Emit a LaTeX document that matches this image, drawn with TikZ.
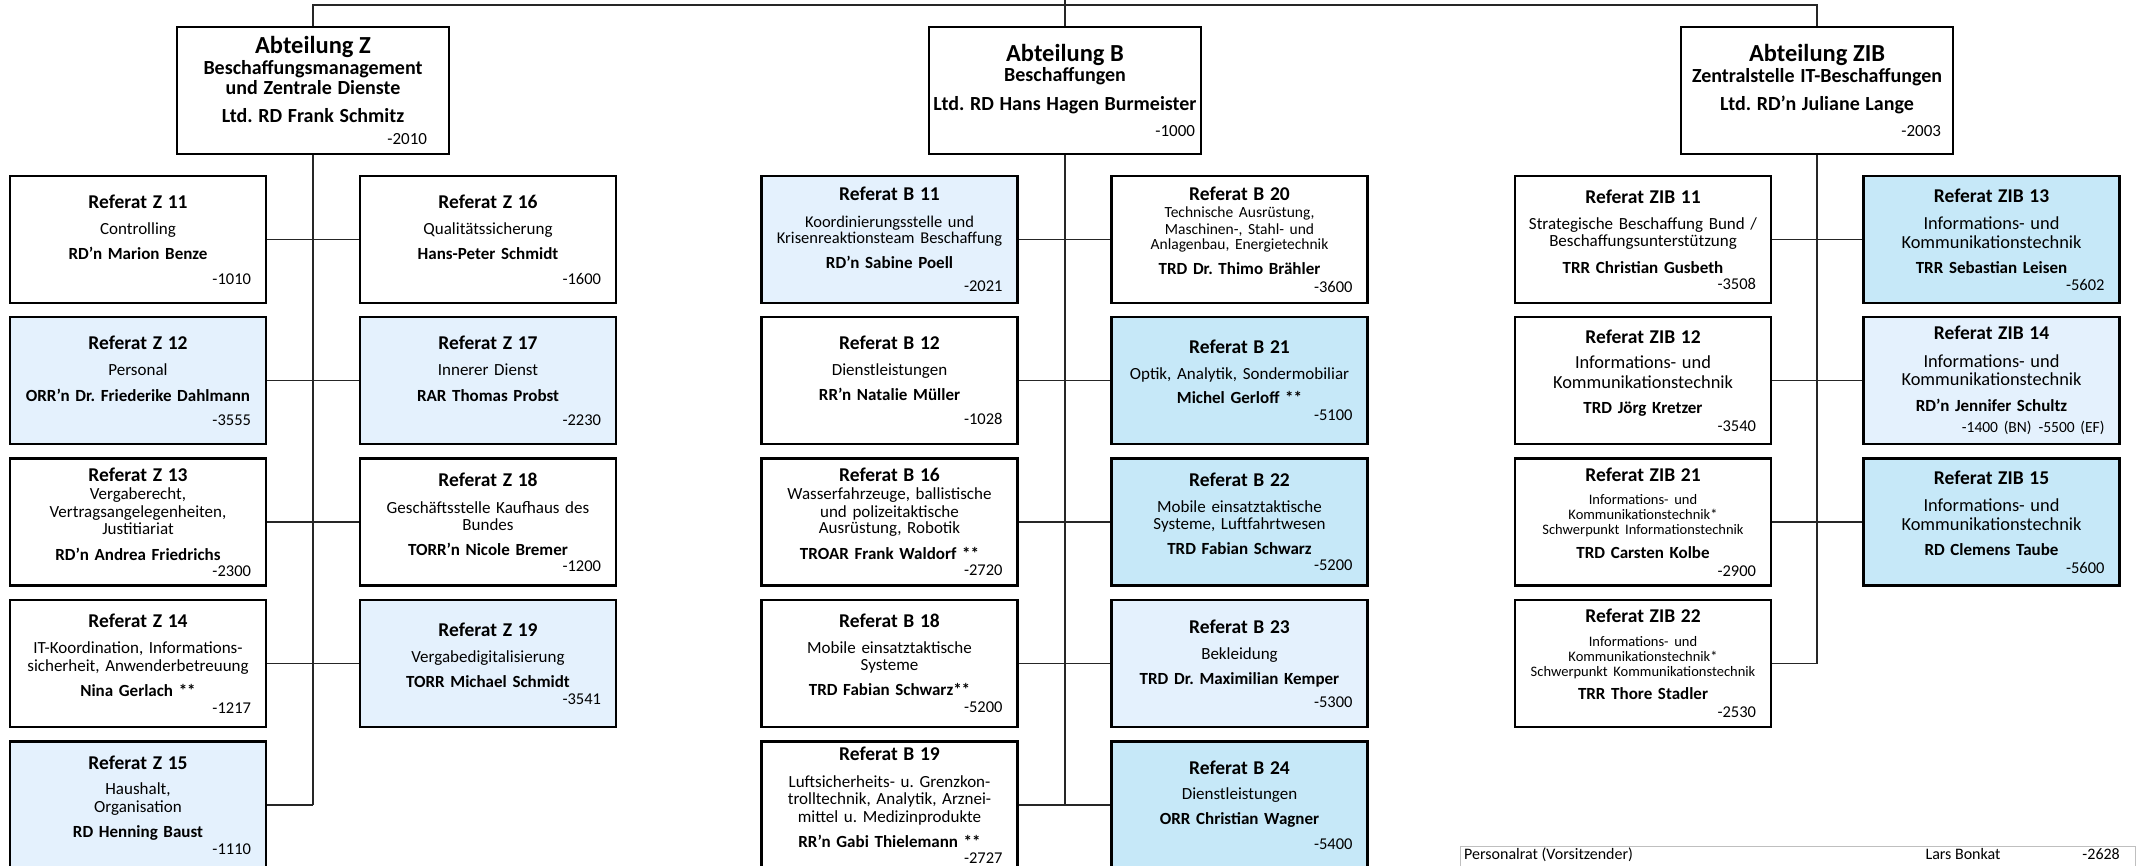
\documentclass[tikz,border=0pt]{standalone}
\usepackage{fontspec}
\setmainfont{Carlito}
\definecolor{lightblue}{RGB}{228,241,253}
\definecolor{midblue}{RGB}{198,232,248}
\setlength{\parindent}{0pt}
\setlength{\parskip}{0pt}
\frenchspacing
\newcommand\rfC[4]{{\fontsize{#1}{#2}\selectfont#3\lineskiplimit-100pt\leftskip0pt plus1fil\rightskip0pt plus1fil\parfillskip0pt\noindent\makebox[0pt]{#4}\par}}
\newcommand\rfR[3]{{\fontsize{#1}{#2}\selectfont\lineskiplimit-100pt\leftskip0pt plus1fil\rightskip0pt\parfillskip0pt\noindent #3\par}}
\newcommand\rT[1]{\rfC{19.5}{20}{\bfseries}{#1}}
\newcommand\rD[2]{\rfC{17}{#1}{\mdseries}{#2}}
\newcommand\rN[2]{\rfC{17}{#1}{\bfseries}{#2}}
\newcommand\rX[3]{\rfC{#1}{#2}{\mdseries}{#3}}
\newcommand\rR[2]{\rfR{16.5}{#1}{#2}}
\newcommand\aT[1]{\rfC{24.5}{25}{\bfseries}{#1}}
\newcommand\aS[2]{\rfC{20}{#1}{\bfseries}{#2}}
\newcommand\aR[2]{\rfR{17}{#1}{#2}}
\tikzset{
  refbox/.style={draw=black, line width=2.9pt, fill=white, minimum width=256pt, minimum height=127pt, text width=226pt, inner sep=0pt, font=\fontsize{17}{18}\selectfont},
  abtbox/.style={refbox, minimum width=272pt},
  lightfill/.style={fill=lightblue},
  midfill/.style={fill=midblue},
  conn/.style={draw=black!85, line width=1.6pt},
  prbox/.style={draw=black!25, line width=1.3pt, fill=white, inner sep=0pt},
  prtext/.style={inner sep=0pt, font=\fontsize{16}{18}\selectfont}
}
\begin{document}
\begin{tikzpicture}[x=1pt,y=-1pt]
\useasboundingbox (0,0) rectangle (2138,865);
\clip (0,0) rectangle (2138,865);

% ---------- Abteilungen ----------
\node[abtbox, text width=228pt] (aZ) at (313,90.5) {\aT{Abteilung Z}\aS{21}{Beschaffungsmanagement}\aS{20}{und Zentrale Dienste}\aS{28}{Ltd. RD Frank Schmitz}\aR{22}{-2010}};
\node[abtbox, text width=260pt] (aB) at (1065,90.5) {\aT{Abteilung B}\aS{20}{Beschaffungen}\aS{29}{Ltd. RD Hans Hagen Burmeister}\aR{26}{-1000}};
\node[abtbox, text width=248pt] (aZIB) at (1817,90.5) {\aT{Abteilung ZIB}\aS{21}{Zentralstelle IT-Beschaffungen}\aS{28}{Ltd. RD’n Juliane Lange}\aR{26}{-2003}};

\coordinate (topY) at (1065,5);
\coordinate (topEnd) at (1065,0);
\draw[conn] (aZ.north) -- (aZ.north |- topY) -- (aZIB.north |- topY) -- (aZIB.north);
\draw[conn] (topEnd) -- (aB.north);

% ---------- Abteilung Z ----------
\node[refbox] (z11) at (138,239.5) {\rT{Referat Z 11}\rD{26}{Controlling}\rN{25}{RD’n Marion Benze}\rR{25}{-1010}};
\node[refbox] (z16) at (488,239.5) {\rT{Referat Z 16}\rD{26}{Qualitätssicherung}\rN{25}{Hans-Peter Schmidt}\rR{25}{-1600}};
\node[refbox, lightfill] (z12) at (138,380.5) {\rT{Referat Z 12}\rD{26}{Personal}\rN{26}{ORR’n Dr. Friederike Dahlmann}\rR{24}{-3555}};
\node[refbox, lightfill] (z17) at (488,380.5) {\rT{Referat Z 17}\rD{26}{Innerer Dienst}\rN{26}{RAR Thomas Probst}\rR{24}{-2230}};
\node[refbox] (z13) at (138,522) {\rT{Referat Z 13}\rD{18}{Vergaberecht,}\rD{18}{Vertragsangelegenheiten,}\rD{17}{Justitiariat}\rN{26}{RD’n Andrea Friedrichs}\rR{16}{-2300}};
\node[refbox] (z18) at (488,522) {\rT{Referat Z 18}\rD{27}{Geschäftsstelle Kaufhaus des}\rD{17}{Bundes}\rN{25}{TORR’n Nicole Bremer}\rR{16}{-1200}};
\node[refbox] (z14) at (138,663.5) {\rT{Referat Z 14}\rD{26}{IT-Koordination, Informations-}\rD{18}{sicherheit, Anwenderbetreuung}\rN{25}{Nina Gerlach **}\rR{17}{-1217}};
\node[refbox, lightfill] (z19) at (488,663.5) {\rT{Referat Z 19}\rD{26}{Vergabedigitalisierung}\rN{25}{TORR Michael Schmidt}\rR{17}{-3541}};
\node[refbox, lightfill] (z15) at (138,805) {\rT{Referat Z 15}\rD{25}{Haushalt,}\rD{18}{Organisation}\rN{25}{RD Henning Baust}\rR{17}{-1110}};

\draw[conn] (aZ.south) -- (aZ.south |- z15.east);
\draw[conn] (z11.east) -- (z16.west);
\draw[conn] (z12.east) -- (z17.west);
\draw[conn] (z13.east) -- (z18.west);
\draw[conn] (z14.east) -- (z19.west);
\draw[conn] (z15.east) -- (aZ.south |- z15.east);

% ---------- Abteilung B ----------
\node[refbox, lightfill] (b11) at (889.5,239.5) {\rT{Referat B 11}\rX{16.5}{27}{Koordinierungsstelle und}\rX{16.5}{16}{Krisenreaktionsteam Beschaffung}\rN{25}{RD’n Sabine Poell}\rR{23}{-2021}};
\node[refbox] (b20) at (1239.5,239.5) {\rT{Referat B 20}\rX{15.5}{17}{Technische Ausrüstung,}\rX{15.5}{17}{Maschinen-, Stahl- und}\rX{15.5}{15}{Anlagenbau, Energietechnik}\rN{25}{TRD Dr. Thimo Brähler}\rR{18}{-3600}};
\node[refbox] (b12) at (889.5,380.5) {\rT{Referat B 12}\rD{26}{Dienstleistungen}\rN{25}{RR’n Natalie Müller}\rR{24}{-1028}};
\node[refbox, midfill] (b21) at (1239.5,380.5) {\rT{Referat B 21}\rD{26}{Optik, Analytik, Sondermobiliar}\rN{24}{Michel Gerloff **}\rR{17}{-5100}};
\node[refbox] (b16) at (889.5,522) {\rT{Referat B 16}\rD{18}{Wasserfahrzeuge, ballistische}\rD{18}{und polizeitaktische}\rD{16}{Ausrüstung, Robotik}\rN{26}{TROAR Frank Waldorf **}\rR{16}{-2720}};
\node[refbox, midfill] (b22) at (1239.5,522) {\rT{Referat B 22}\rD{26}{Mobile einsatztaktische}\rD{17}{Systeme, Luftfahrtwesen}\rN{25}{TRD Fabian Schwarz}\rR{16}{-5200}};
\node[refbox] (b18) at (889.5,663.5) {\rT{Referat B 18}\rD{26}{Mobile einsatztaktische}\rD{17}{Systeme}\rN{25}{TRD Fabian Schwarz**}\rR{17}{-5200}};
\node[refbox, lightfill] (b23) at (1239.5,663.5) {\rT{Referat B 23}\rD{26}{Bekleidung}\rN{25}{TRD Dr. Maximilian Kemper}\rR{23}{-5300}};
\node[refbox] (b19) at (889.5,805) {\rT{Referat B 19}\rD{27}{Luftsicherheits- u. Grenzkon-}\rD{17}{trolltechnik, Analytik, Arznei-}\rD{18}{mittel u. Medizinprodukte}\rN{25}{RR’n Gabi Thielemann **}\rR{16}{-2727}};
\node[refbox, midfill] (b24) at (1239.5,805) {\rT{Referat B 24}\rD{25}{Dienstleistungen}\rN{25}{ORR Christian Wagner}\rR{25}{-5400}};

\draw[conn] (aB.south) -- (aB.south |- b19.east);
\draw[conn] (b11.east) -- (b20.west);
\draw[conn] (b12.east) -- (b21.west);
\draw[conn] (b16.east) -- (b22.west);
\draw[conn] (b18.east) -- (b23.west);
\draw[conn] (b19.east) -- (b24.west);

% ---------- Abteilung ZIB ----------
\node[refbox] (zib11) at (1643,239.5) {\rT{Referat ZIB 11}\rD{26}{Strategische Beschaffung Bund /}\rD{17}{Beschaffungsunterstützung}\rN{27}{TRR Christian Gusbeth}\rR{16}{-3508}};
\node[refbox, midfill] (zib13) at (1991.5,239.5) {\rT{Referat ZIB 13}\rX{18.4}{27}{Informations- und}\rX{18.4}{19}{Kommunikationstechnik}\rN{25}{TRR Sebastian Leisen}\rR{17}{-5602}};
\node[refbox] (zib12) at (1643,380.5) {\rT{Referat ZIB 12}\rX{18.4}{25}{Informations- und}\rX{18.4}{20}{Kommunikationstechnik}\rN{25}{TRD Jörg Kretzer}\rR{18}{-3540}};
\node[refbox, lightfill] (zib14) at (1991.5,380.5) {\rT{Referat ZIB 14}\rX{18.4}{28}{Informations- und}\rX{18.4}{18}{Kommunikationstechnik}\rN{26}{RD’n Jennifer Schultz}\rfR{15.5}{21}{-1400 (BN)\hspace{7pt}-5500 (EF)}};
\node[refbox] (zib21) at (1643,522) {\rT{Referat ZIB 21}\rX{14.5}{23}{Informations- und}\rX{14.5}{15}{Kommunikationstechnik*}\rX{14.5}{15}{Schwerpunkt Informationstechnik}\rN{24}{TRD Carsten Kolbe}\rR{18}{-2900}};
\node[refbox, midfill] (zib15) at (1991.5,522) {\rT{Referat ZIB 15}\rX{18.4}{27}{Informations- und}\rX{18.4}{19}{Kommunikationstechnik}\rN{25}{RD Clemens Taube}\rR{18}{-5600}};
\node[refbox] (zib22) at (1643,663.5) {\rT{Referat ZIB 22}\rX{14.5}{24}{Informations- und}\rX{14.5}{15}{Kommunikationstechnik*}\rX{14.5}{15}{Schwerpunkt Kommunikationstechnik}\rN{23}{TRR Thore Stadler}\rR{18}{-2530}};

\draw[conn] (aZIB.south) -- (aZIB.south |- zib22.east);
\draw[conn] (zib11.east) -- (zib13.west);
\draw[conn] (zib12.east) -- (zib14.west);
\draw[conn] (zib21.east) -- (zib15.west);
\draw[conn] (zib22.east) -- (aZIB.south |- zib22.east);

% ---------- Personalrat ----------
\node[prbox, anchor=north west, minimum width=675pt, minimum height=40pt] (pr) at (1460,846) {};
\node[prtext, anchor=base west] (prl) at (1464,859) {Personalrat (Vorsitzender)};
\node[prtext, anchor=base] (prn) at (1963,859) {Lars Bonkat};
\node[prtext, anchor=base east] (prt) at (2120,859) {-2628};
\end{tikzpicture}
\end{document}
